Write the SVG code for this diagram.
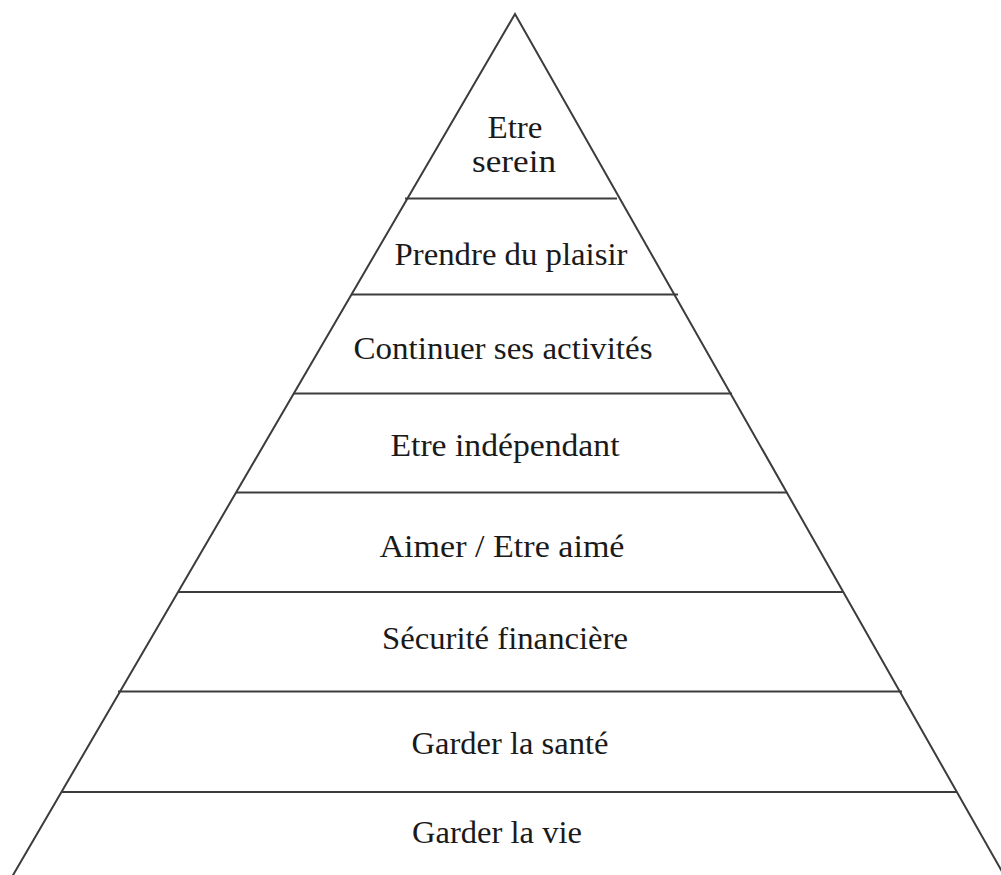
<svg xmlns="http://www.w3.org/2000/svg" width="1001" height="875" viewBox="0 0 1001 875">
<style>
.edge{stroke:#3c3c3c;stroke-width:2;fill:none;stroke-linecap:butt}
.lbl{font-family:"Liberation Serif","DejaVu Serif",serif;font-size:31px;fill:#1a1a1a;text-anchor:middle}
</style>
<rect width="1001" height="875" fill="#ffffff"/>
<g id="connectors">
<polyline class="edge" points="9,882 515,14 1008,882"/>
<line class="edge" x1="405" y1="198.5" x2="617" y2="198.5"/>
<line class="edge" x1="351" y1="294.5" x2="678" y2="294.5"/>
<line class="edge" x1="294" y1="393.5" x2="732" y2="393.5"/>
<line class="edge" x1="236" y1="492.5" x2="787" y2="492.5"/>
<line class="edge" x1="178" y1="592" x2="843" y2="592"/>
<line class="edge" x1="118" y1="691.5" x2="902" y2="691.5"/>
<line class="edge" x1="62" y1="792" x2="957" y2="792"/>
</g>
<g id="level8"><text class="lbl" x="515" y="138" textLength="55" lengthAdjust="spacingAndGlyphs">Etre</text><text class="lbl" x="514" y="172" textLength="84" lengthAdjust="spacingAndGlyphs">serein</text></g>
<g id="level7"><text class="lbl" x="511" y="265" textLength="233" lengthAdjust="spacingAndGlyphs">Prendre du plaisir</text></g>
<g id="level6"><text class="lbl" x="503" y="359" textLength="299" lengthAdjust="spacingAndGlyphs">Continuer ses activités</text></g>
<g id="level5"><text class="lbl" x="505" y="456" textLength="229" lengthAdjust="spacingAndGlyphs">Etre indépendant</text></g>
<g id="level4"><text class="lbl" x="502" y="557" textLength="245" lengthAdjust="spacingAndGlyphs">Aimer / Etre aimé</text></g>
<g id="level3"><text class="lbl" x="505" y="649" textLength="246" lengthAdjust="spacingAndGlyphs">Sécurité financière</text></g>
<g id="level2"><text class="lbl" x="510" y="754" textLength="197" lengthAdjust="spacingAndGlyphs">Garder la santé</text></g>
<g id="level1"><text class="lbl" x="497" y="843" textLength="170" lengthAdjust="spacingAndGlyphs">Garder la vie</text></g>
</svg>
